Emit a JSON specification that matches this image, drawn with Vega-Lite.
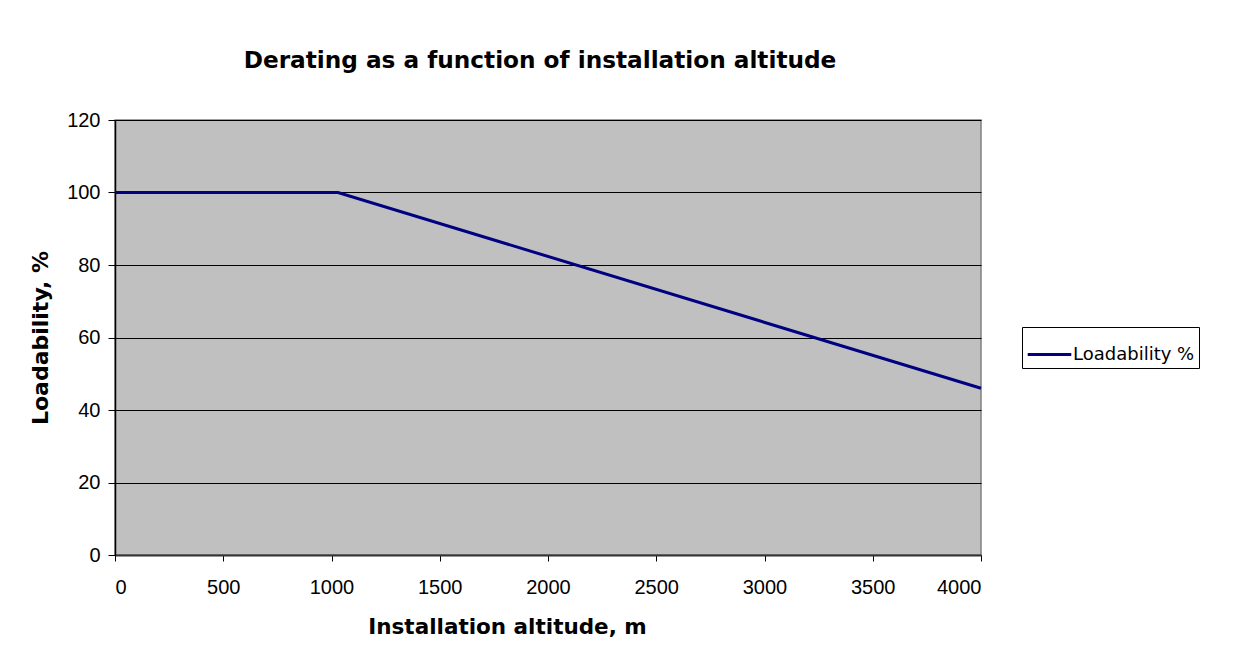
{
  "$schema": "https://vega.github.io/schema/vega-lite/v6.json",
  "autosize": {"type": "none"},
  "width": 866,
  "height": 435,
  "padding": {"left": 115, "top": 120, "right": 256, "bottom": 116},
  "background": "white",
  "title": {
    "text": "Derating as a function of installation altitude",
    "font": "DejaVu Sans",
    "fontWeight": "bold",
    "fontSize": 23.2,
    "color": "black",
    "anchor": "middle",
    "dx": -8,
    "offset": 37
  },
  "data": {
    "values": [
      {"altitude": 0, "loadability": 100, "series": "Loadability %"},
      {"altitude": 1030, "loadability": 100, "series": "Loadability %"},
      {"altitude": 4000, "loadability": 46, "series": "Loadability %"}
    ]
  },
  "mark": {"type": "line", "strokeWidth": 3, "clip": false},
  "encoding": {
    "x": {
      "field": "altitude",
      "type": "quantitative",
      "scale": {"domain": [0, 4000], "nice": false, "zero": true},
      "axis": {
        "title": "Installation altitude, m",
        "values": [0, 500, 1000, 1500, 2000, 2500, 3000, 3500, 4000],
        "format": "d",
        "grid": false,
        "domainColor": "#333333",
        "domainWidth": 2,
        "tickColor": "black",
        "tickSize": 6,
        "labelPadding": 16,
        "labelFont": "Liberation Sans",
        "labelFontSize": 20,
        "labelColor": "black",
        "titleFont": "DejaVu Sans",
        "titleFontWeight": "bold",
        "titleFontSize": 21.5,
        "titleColor": "black",
        "titlePadding": 19,
        "titleX": 392
      }
    },
    "y": {
      "field": "loadability",
      "type": "quantitative",
      "scale": {"domain": [0, 120], "nice": false},
      "axis": {
        "title": "Loadability, %",
        "values": [0, 20, 40, 60, 80, 100, 120],
        "grid": true,
        "gridColor": "black",
        "gridWidth": 1,
        "gridOpacity": 1,
        "domainColor": "black",
        "domainWidth": 1.5,
        "tickColor": "black",
        "tickSize": 7,
        "labelPadding": 8,
        "labelFont": "Liberation Sans",
        "labelFontSize": 20,
        "labelColor": "black",
        "titleFont": "DejaVu Sans",
        "titleFontWeight": "bold",
        "titleFontSize": 22,
        "titleColor": "black",
        "titlePadding": 14
      }
    },
    "color": {
      "field": "series",
      "type": "nominal",
      "scale": {"range": ["#000080"]},
      "legend": {
        "title": null,
        "orient": "none",
        "legendX": 907,
        "legendY": 207,
        "symbolType": "stroke",
        "symbolSize": 1900,
        "symbolStrokeWidth": 3,
        "labelFont": "DejaVu Sans",
        "labelFontSize": 18,
        "labelColor": "black",
        "labelOffset": 0,
        "padding": 4,
        "strokeColor": "black",
        "fillColor": "white"
      }
    }
  },
  "config": {
    "view": {"fill": "#c0c0c0", "stroke": "#808080", "strokeWidth": 1.5}
  }
}
